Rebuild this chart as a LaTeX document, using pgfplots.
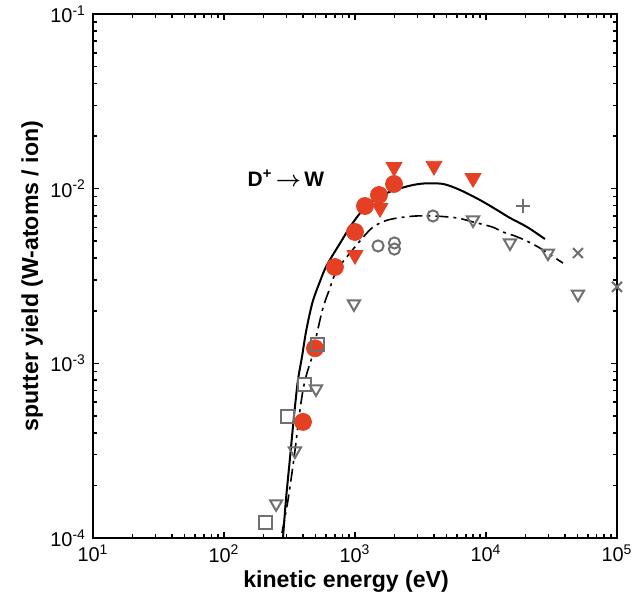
\documentclass[border=0pt]{standalone}
\usepackage{fontspec}
\setmainfont{Liberation Sans}
\usepackage{pgfplots}
\pgfplotsset{compat=1.18}
\definecolor{myred}{RGB}{229,64,36}
\definecolor{mygray}{RGB}{112,112,112}
\begin{document}
\begin{tikzpicture}
\path[use as bounding box] (-46.5bp,-34bp) rectangle (271.5bp,269bp);
\begin{axis}[
  at={(0,0)}, anchor=south west,
  scale only axis, width=262bp, height=262bp,
  xmode=log, ymode=log,
  xmin=10, xmax=1e5, ymin=1e-4, ymax=1e-1,
  axis line style={line width=1bp},
  every tick/.style={black, line width=0.8bp},
  major tick length=3bp, minor tick length=1.8bp,
  xtick={10,100,1000,10000,100000},
  xticklabels={10\textsuperscript{1},10\textsuperscript{2},10\textsuperscript{3},10\textsuperscript{4},10\textsuperscript{5}},
  ytick={1e-4,1e-3,1e-2,1e-1},
  yticklabels={10\textsuperscript{-4},10\textsuperscript{-3},10\textsuperscript{-2},10\textsuperscript{-1}},
  tick label style={font=\fontsize{10}{12}\selectfont},
  xlabel={kinetic energy (eV)},
  ylabel={sputter yield (W-atoms / ion)},
  label style={font=\fontsize{11.6}{14}\selectfont\bfseries},
  xlabel style={at={(axis description cs:0.483,-0.084)},anchor=center},
  ylabel style={at={(axis description cs:-0.116,0.5)},anchor=center},
  clip=false,
]
% solid curve
\addplot[black, line width=1bp, smooth, tension=0.5, no marks] coordinates {
(282,1.0e-4) (297,1.65e-4) (318,2.8e-4) (336,4.32e-4) (348,5.63e-4) (367,8.03e-4)
(394,1.09e-3) (425,1.55e-3) (475,2.25e-3) (541,2.95e-3) (610,3.65e-3)
(796,5.08e-3) (917,6.04e-3) (1055,7.0e-3) (1236,8.0e-3) (1755,9.45e-3)
(2495,1.03e-2) (3300,1.07e-2) (4698,1.064e-2) (6338,9.83e-3) (9000,8.61e-3)
(12140,7.55e-3) (15250,6.80e-3) (20540,6.04e-3) (28180,5.15e-3)};
% dash-dot curve
\addplot[black, line width=0.8bp, smooth, tension=0.5, no marks,
  dash pattern=on 6.5bp off 2.5bp on 1.5bp off 2.5bp] coordinates {
(277,1.07e-4) (308,1.65e-4) (345,3.0e-4) (374,4.93e-4) (401,7.03e-4) (430,8.81e-4)
(470,1.09e-3) (513,1.49e-3) (570,2.08e-3) (644,2.70e-3) (729,3.42e-3) (1000,4.64e-3)
(1349,5.96e-3) (1786,6.62e-3) (2700,6.95e-3) (3936,6.98e-3) (6012,6.80e-3) (7962,6.45e-3)
(11120,6.04e-3) (13490,5.65e-3) (16640,5.36e-3) (20540,5.01e-3) (25820,4.57e-3)
(38700,3.75e-3)};
% red circles
\addplot[only marks, mark=*, mark size=4.25bp, color=myred] coordinates {
(401,4.62e-4) (495,1.22e-3) (703,3.56e-3) (1000,5.65e-3) (1192,7.96e-3)
(1525,9.2e-3) (1986,1.064e-2)};
% red triangles
\addplot[only marks, mark=triangle*, mark size=4.6bp, color=myred, mark options={rotate=180}] coordinates {
(1000,4.17e-3) (1552,7.75e-3) (1986,1.33e-2) (4008,1.35e-2) (7962,1.15e-2)};
% gray open circles
\addplot[only marks, mark=o, mark size=2.8bp, color=mygray, mark options={line width=1bp}] coordinates {
(1500,4.7e-3) (2000,4.89e-3) (2000,4.51e-3) (3936,6.98e-3)};
% gray open triangles
\addplot[only marks, mark=triangle, mark size=3.5bp, color=mygray, mark options={rotate=180, line width=1bp}] coordinates {
(250,1.57e-4) (348,3.15e-4) (504,7.14e-4) (982,2.19e-3) (7962,6.62e-3)
(15250,4.89e-3) (29720,4.28e-3) (50350,2.49e-3)};
% gray squares
\addplot[only marks, mark=square, mark size=3.25bp, color=mygray, mark options={line width=1bp}] coordinates {
(209,1.22e-4) (308,4.93e-4) (415,7.52e-4) (513,1.29e-3)};
% plus
\addplot[only marks, mark=+, mark size=3.5bp, color=mygray, mark options={line width=1bp}] coordinates {
(19150,7.96e-3)};
% cross
\addplot[only marks, mark=x, mark size=3.5bp, color=mygray, mark options={line width=1bp}] coordinates {
(50350,4.28e-3) (100000,2.74e-3)};
\node[font=\fontsize{10.5}{12}\selectfont\bfseries] at (axis cs:297,0.0115) {D\textsuperscript{+}\,{\boldmath$\rightarrow$}\,W};
\end{axis}
\end{tikzpicture}
\end{document}
